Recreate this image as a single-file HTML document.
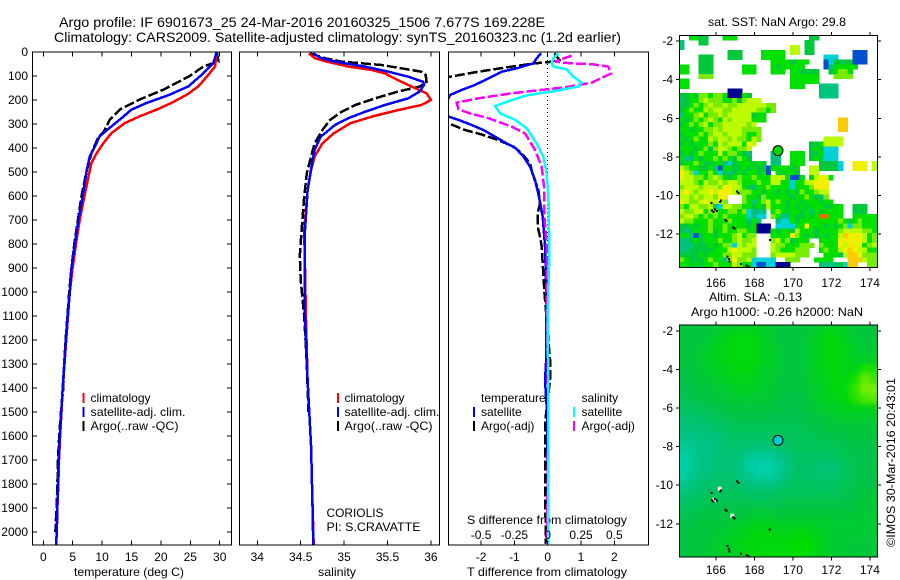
<!DOCTYPE html>
<html>
<head>
<meta charset="utf-8">
<title>Argo profile</title>
<style>
html,body{margin:0;padding:0;background:#fff;width:900px;height:580px;overflow:hidden}
svg{display:block}
text{font-family:"Liberation Sans",sans-serif;font-size:12px;fill:#000}
</style>
</head>
<body>
<svg id="chart" width="900" height="580" viewBox="0 0 900 580" xmlns="http://www.w3.org/2000/svg">
<defs>
<clipPath id="clip-temp"><rect x="32.5" y="52" width="199" height="493"/></clipPath>
<clipPath id="clip-sal"><rect x="239.5" y="52" width="200" height="493"/></clipPath>
<clipPath id="clip-diff"><rect x="448.5" y="52" width="200" height="493"/></clipPath>
<clipPath id="clip-sst"><rect x="679.5" y="35.5" width="198" height="232"/></clipPath>
<clipPath id="clip-sla"><rect x="679.5" y="325" width="198" height="232"/></clipPath>
<filter id="sla-smooth" x="-5%" y="-5%" width="110%" height="110%"><feGaussianBlur stdDeviation="2.5"/></filter>
</defs>
<text x="59" y="27" style="font-size:14px" textLength="486" lengthAdjust="spacingAndGlyphs">Argo profile: IF 6901673_25 24-Mar-2016 20160325_1506 7.677S 169.228E</text>
<text x="54" y="42" style="font-size:14px" textLength="567" lengthAdjust="spacingAndGlyphs">Climatology: CARS2009. Satellite-adjusted climatology: synTS_20160323.nc (1.2d earlier)</text>
<text x="74" y="576" textLength="110" lengthAdjust="spacingAndGlyphs">temperature (deg C)</text>
<text x="318" y="576" textLength="38" lengthAdjust="spacingAndGlyphs">salinity</text>
<text x="467" y="576" textLength="160" lengthAdjust="spacingAndGlyphs">T difference from climatology</text>
<text x="467" y="524" textLength="160" lengthAdjust="spacingAndGlyphs">S difference from climatology</text>
<text x="326.5" y="517" textLength="57" lengthAdjust="spacingAndGlyphs">CORIOLIS</text>
<text x="326.5" y="531" textLength="94" lengthAdjust="spacingAndGlyphs">PI: S.CRAVATTE</text>
<text x="708" y="26" textLength="138" lengthAdjust="spacingAndGlyphs">sat. SST: NaN Argo: 29.8</text>
<text x="709" y="301" textLength="93" lengthAdjust="spacingAndGlyphs">Altim. SLA: -0.13</text>
<text x="691" y="316" textLength="172" lengthAdjust="spacingAndGlyphs">Argo h1000: -0.26 h2000: NaN</text>
<text transform="translate(895 547) rotate(-90)" textLength="169" lengthAdjust="spacingAndGlyphs">©IMOS 30-Mar-2016 20:43:01</text>
<text x="90.5" y="402">climatology</text>
<text x="90.5" y="416" textLength="95" lengthAdjust="spacingAndGlyphs">satellite-adj. clim.</text>
<text x="90.5" y="430" textLength="88" lengthAdjust="spacingAndGlyphs">Argo(..raw -QC)</text>
<text x="344.5" y="402">climatology</text>
<text x="344.5" y="416" textLength="95" lengthAdjust="spacingAndGlyphs">satellite-adj. clim.</text>
<text x="344.5" y="430" textLength="88" lengthAdjust="spacingAndGlyphs">Argo(..raw -QC)</text>
<text x="481" y="402">temperature</text>
<text x="481" y="416">satellite</text>
<text x="481" y="430">Argo(-adj)</text>
<text x="581.5" y="402">salinity</text>
<text x="581.5" y="416">satellite</text>
<text x="581.5" y="430">Argo(-adj)</text>
</svg>
<script>
// ---- axis ticks ----
const depthTicks=[0,100,200,300,400,500,600,700,800,900,1000,1100,1200,1300,1400,1500,1600,1700,1800,1900,2000];
const tempTicks=[0,5,10,15,20,25,30];
const salTicks=[34,34.5,35,35.5,36];
const salTickLabels=["34","34.5","35","35.5","36"];
const tDiffTicks=[-2,-1,0,1,2];
const sDiffTicks=[-0.5,-0.25,0,0.25,0.5];
const sDiffTickLabels=["-0.5","-0.25","0","0.25","0.5"];
const lonTicks=[166,168,170,172,174];
const latTicks=[-2,-4,-6,-8,-10,-12];
// ---- temperature profiles ----
const tempClimZ=[0,61,100,143,178,212,240,268,296,338,380,421,462,504,600,697,794,898,1000,1100,1200,1300,1400,1500,1600,1700,1800,1900,2000,2060];
const tempClim=[29.5,29.2,27.9,26.4,24.4,21.8,19.3,16.4,13.9,11.6,10.2,9.1,8.2,7.8,7.0,6.2,5.6,5.0,4.5,4.2,3.9,3.6,3.3,3.1,2.85,2.67,2.55,2.4,2.3,2.15];
const tempSatZ=[0,46,67,100,143,178,212,240,276,310,351,393,435,490,600,697,794,898,1000,1100,1200,1300,1400,1500,1600,1700,1800,1900,2000,2060];
const tempSat=[29.5,28.9,28.1,26.7,24.7,21.5,17.6,15.0,13.3,11.6,9.6,8.8,7.9,7.4,6.7,6.0,5.4,4.8,4.5,4.15,3.85,3.55,3.3,3.05,2.8,2.62,2.5,2.38,2.28,2.2];
const tempArgoZ=[0,39,61,100,157,198,240,282,331,358,421,504,600,697,794,898,1000,1100,1200,1300,1400,1500,1600,1700,1800,1900,2000];
const tempArgo=[29.5,29.8,27.2,24.9,20.4,16.4,13.0,11.3,10.3,9.3,8.2,7.3,6.5,5.9,5.3,4.8,4.4,4.1,3.8,3.55,3.4,3.0,2.7,2.5,2.4,2.25,2.05];
// ---- salinity profiles ----
const salClimZ=[6,26,40,61,75,89,117,144,172,200,221,242,269,297,339,381,436,492,575,742,900,1100,1367,1644,1853,2054];
const salClim=[34.595,34.664,34.8,35.05,35.32,35.47,35.62,35.78,35.95,36.0,35.89,35.62,35.32,35.07,34.88,34.75,34.66,34.62,34.58,34.54,34.55,34.56,34.58,34.62,34.634,34.65];
const salSatZ=[6,26,40,61,82,103,124,137,165,193,221,249,276,304,353,408,464,575,742,900,1100,1367,1644,1853,2054];
const salSat=[34.645,34.74,34.895,35.24,35.51,35.74,35.91,35.92,35.87,35.74,35.47,35.24,35.05,34.895,34.73,34.66,34.63,34.58,34.55,34.545,34.55,34.58,34.62,34.634,34.645];
const salArgoZ=[6,26,40,54,68,82,96,124,144,165,193,221,249,283,325,381,436,506,603,742,850,950,1100,1300,1500];
const salArgo=[34.61,34.78,34.97,35.43,35.66,35.89,35.94,35.95,35.87,35.62,35.36,35.13,34.97,34.84,34.75,34.66,34.62,34.57,34.54,34.51,34.49,34.5,34.54,34.57,34.59];
// ---- difference profiles ----
const tDiffSatZ=[6,26,47,68,82,110,137,158,179,193,231,269,283,304,325,353,381,401,436,478,533,603,686,811,1000,1300,1367,1500,2050];
const tDiffSat=[-0.2,-0.33,-0.43,-0.93,-1.38,-1.78,-2.18,-2.58,-2.93,-2.98,-3.5,-2.98,-2.68,-2.28,-1.93,-1.58,-1.23,-0.96,-0.73,-0.53,-0.38,-0.26,-0.15,-0.08,-0.04,-0.05,-0.08,-0.02,0.02];
const tDiffArgoZ=[6,33,43,47,61,82,103,144,256,297,325,346,367,394,422,464,506,575,631,672,728,769,811,1000,1300,1367,1547,1825,2050];
const tDiffArgo=[0.2,0.35,0,-0.38,-1.08,-2.08,-2.93,-5,-5,-2.98,-2.48,-1.93,-1.48,-1.03,-0.78,-0.53,-0.46,-0.28,-0.23,-0.3,-0.3,-0.23,-0.18,-0.1,0.08,0.07,-0.08,-0.08,-0.05];
const sDiffSatZ=[6,26,47,61,72,103,128,144,165,179,200,225,256,283,318,381,436,506,603,742,825,1100,1500,2050];
const sDiffSat=[0.08,0.043,0.03,0.043,0.143,0.193,0.255,0.23,0.03,-0.145,-0.27,-0.395,-0.357,-0.245,-0.158,-0.083,-0.033,-0.008,0.005,0.01,0.0125,0.0,0.005,0.005];
const sDiffArgoZ=[15,40,47,51,61,89,128,147,158,172,193,211,239,256,276,311,339,408,478,575,686,811,1100,1500,2050];
const sDiffArgo=[0.18,0.055,0.168,0.33,0.455,0.475,0.33,0.13,-0.045,-0.27,-0.52,-0.683,-0.67,-0.583,-0.445,-0.27,-0.17,-0.095,-0.045,-0.025,-0.025,-0.0075,-0.005,0.005,-0.005];
// ---- SST map: level per 0.25 degree cell, 0 means no data ----
const sstRows=[
[0,0,6,6,5,5,0,0,0,6,6,6,0,0,0,0,0,0,0,0,0,0,0,0,0,0,0,5,5],
[4,0,0,0,5,5,0,0,0,0,0,0,0,0,0,0,0,0,0,0,0,0,0,0,0,0,5,5],
[4,0,0,0,0,0,0,0,0,0,0,0,0,0,0,0,0,0,0,0,0,0,0,8,8,0,5,5],
[0,0,0,0,0,0,0,0,0,0,5,5,5,0,0,0,0,6,6,6,6,6,0,8,8,0,5,5,0,0,0,0,0,0,0,0,2,2,2],
[0,0,0,0,5,5,5,0,0,0,5,5,5,0,0,0,0,6,6,6,6,6,0,0,0,0,0,0,0,0,3,3,3,0,0,0,2,2,2],
[0,0,0,0,5,5,5,0,0,0,0,0,0,0,0,0,0,0,0,6,6,6,6,5,6,6,6,0,0,0,2,3,5,5,5,5,2,2,2],
[6,6,0,0,5,5,5,0,0,0,0,0,0,6,6,6,0,0,0,6,5,6,6,6,6,6,0,0,0,0,2,4,6,6,6,6,6],
[6,6,0,0,5,5,5,0,0,0,0,0,0,6,6,6,0,0,0,6,6,6,0,6,6,5,5,5,5,0,0,5,6,7,7,6],
[0,0,0,0,7,7,7,0,0,0,0,0,0,0,0,0,0,0,0,0,0,0,0,6,6,6,6,6,6,0,0,0,7,7,7,7],
[6,6,0,0,0,0,0,0,0,0,0,0,0,0,0,0,0,0,0,0,0,0,0,6,6,6,6,6,6],
[6,6,0,0,0,0,0,0,0,0,0,0,0,0,0,0,0,0,0,0,0,0,0,6,6,6,0,0,0,4,4,4,4],
[0,0,0,0,0,0,0,0,0,0,1,1,1,0,0,0,0,0,0,0,0,0,0,0,0,0,0,0,0,4,4,4,4],
[5,5,6,5,7,7,6,7,7,6,1,1,1,6,5,0,0,0,0,0,0,0,0,0,0,0,0,0,0,4,4,4,4],
[4,5,6,6,7,8,7,7,7,6,6,7,5,7,8,8,8],
[5,5,6,7,6,7,8,7,7,8,7,7,8,8,8,8,8,8,7,7],
[5,6,7,6,6,8,7,8,8,7,7,8,8,8,8,8,7,7,6,7],
[4,6,6,7,8,6,7,7,8,7,8,8,8,8,8,5,6,6],
[6,5,6,7,6,7,8,7,6,8,7,8,8,8,8,6,6,6,0,0,0,0,0,0,0,0,0,0,0,0,0,0,0,10,10],
[5,6,7,6,7,8,6,7,7,8,8,8,8,8,7,8,0,0,0,0,0,0,0,0,0,0,0,0,0,0,0,0,0,10,10],
[6,6,5,6,6,7,7,8,7,8,8,8,8,7,7,7,7,0,0,0,0,0,0,0,0,0,0,0,0,0,0,0,0,10,10],
[5,6,6,6,7,6,7,8,8,7,8,8,8,7,6,6,7],
[6,5,6,7,6,6,8,7,8,8,7,8,7,7,6,8,7,0,0,0,0,0,0,0,0,0,0,0,0,0,8,8,8,8],
[5,6,5,6,6,6,7,6,8,7,8,8,8,6,9,8,0,0,0,0,0,0,0,0,0,0,0,5,5,6,8,8,8,8],
[6,6,6,5,6,7,5,7,8,8,7,6,7,7,8,0,0,0,0,0,0,0,0,0,0,0,0,5,6,5,3,3,3],
[5,6,5,6,7,6,6,6,8,6,7,7,6,5,4,0,0,0,0,4,5,0,0,6,6,6,0,5,5,6,3,3,3],
[6,4,4,6,5,6,6,7,6,7,6,5,7,6,5,0,0,0,0,4,4,0,0,6,6,6,0,5,6,5,3,3,3],
[5,6,6,7,6,5,5,6,6,4,3,5,6,6,6,5,6,5,0,4,4,0,0,6,6,6,0,0,0,5,5,5,5,3,0,0,9,9,9,0,8],
[8,7,6,6,5,5,6,4,2,6,6,5,5,6,5,6,5,5,2,6,6,6,6,5,6,0,0,8,8,5,5,5,5,3,0,0,9,9,9,0,8],
[9,8,7,3,6,6,7,6,3,5,4,5,6,5,6,6,5,6,2,0,6,5,6,6,5,0,0,8,8],
[9,8,8,7,7,6,7,8,7,6,5,6,7,6,6,7,6,6,6,8,8,8,6,2,2,6,0,6,8,9,9,6],
[8,8,8,7,6,8,7,7,8,7,8,8,7,6,6,6,7,6,6,8,8,6,6,3,6,6,8,8,9,9,9],
[7,8,8,8,7,8,8,8,7,9,9,8,8,6,5,4,6,6,7,6,6,6,6,3,6,6,6,7,9,9,9],
[8,9,8,7,8,8,9,8,9,9,9,8,7,7,7,6,6,5,6,6,5,6,5,6,5,7,6,6,7,8,8],
[8,8,7,8,7,8,8,7,9,9,0,0,0,7,6,6,5,7,6,6,6,6,6,5,6,6,7,6,5,4,7],
[9,8,7,7,8,9,8,8,8,7,0,0,0,7,6,4,6,7,8,6,7,6,5,6,6,5,6,6,6,5,6,6],
[7,6,8,8,7,7,8,4,3,8,8,7,7,6,6,5,6,5,8,6,6,6,5,6,5,6,5,6,6,6,5,5,6,6,0,0,5,5,5],
[8,7,7,8,8,6,7,7,6,6,7,7,6,7,3,4,4,4,0,6,7,6,5,6,6,5,6,4,6,5,6,6,6,6,0,0,5,5,5],
[7,8,8,7,6,7,6,7,6,7,6,6,6,6,3,4,3,3,0,7,6,4,4,6,5,5,6,5,6,11,11,6,6,6,0,0,6,6,6,6,6],
[8,7,7,6,6,6,7,6,6,6,7,6,6,6,4,6,4,0,0,0,4,3,3,6,5,6,6,6,6,6,6,6,6,7,6,5,6,7,6,6,6],
[5,5,6,5,6,6,7,6,6,7,6,6,6,6,5,6,1,1,1,0,3,3,3,3,6,6,9,6,6,6,5,6,5,6,7,3,7,7,6,6,6],
[5,4,5,6,6,6,7,5,6,7,6,6,7,7,6,6,1,1,1,6,5,6,6,5,8,6,6,6,5,6,6,6,6,7,8,8,8,8,7,7,6],
[6,6,4,2,5,6,6,5,6,6,6,7,8,6,7,7,0,0,0,6,6,6,6,9,7,6,5,6,5,6,5,6,6,8,10,9,9,9,8,6,7],
[4,4,5,6,5,6,6,6,7,6,6,7,8,7,7,8,0,0,0,7,8,6,7,5,6,6,6,0,0,6,6,6,6,9,9,9,9,9,8,6,7],
[4,4,4,5,5,5,6,5,6,7,7,3,8,7,8,8,0,0,0,8,7,7,6,6,6,7,7,7,0,7,6,6,6,9,8,9,9,9,6,7,8],
[4,4,5,5,5,5,5,6,6,6,8,9,8,8,8,7,0,0,0,8,7,6,6,6,7,7,7,0,0,6,7,6,6,8,9,10,9,8,8,6,6],
[5,5,5,5,6,5,6,6,6,7,7,8,8,7,7,7,0,0,0,7,8,8,8,8,7,7,7,0,0,0,6,6,6,5,8,10,10,9,7,7,7],
[7,6,5,5,5,6,7,6,6,4,7,9,7,7,8,3,3,3,3,3,0,0,7,7,7,0,0,0,6,6,6,6,0,0,0,10,10,10,8,7,7],
[6,6,5,6,5,6,6,7,6,6,6,8,7,6,6,3,2,2,3,3,1,1,1,0,0,0,0,0,0,4,4,4,4,5,3,10,10,0,0,7,7]
];
// ---- SLA map: anomaly in cm per 0.5 degree cell ----
const slaRows=[
[-15,-15,-14,-14,-12,-10,-9,-9,-10,-12,-14,-15,-15,-14,-12,-9,-9,-11,-14,-15,-15],
[-15,-15,-14,-12,-10,-8,-7,-7,-9,-12,-14,-15,-15,-13,-10,-8,-8,-10,-13,-14,-14],
[-15,-15,-13,-11,-9,-8,-7,-7,-9,-11,-13,-15,-15,-13,-10,-8,-8,-9,-12,-13,-13],
[-15,-14,-13,-11,-9,-8,-7,-7,-9,-11,-13,-15,-15,-13,-10,-8,-8,-9,-11,-11,-11],
[-16,-15,-13,-12,-10,-9,-8,-8,-10,-12,-13,-15,-15,-13,-10,-9,-8,-9,-9,-4,-4],
[-17,-15,-14,-13,-11,-10,-9,-9,-11,-12,-14,-15,-15,-13,-11,-9,-8,-8,-4,2,-1],
[-17,-16,-15,-14,-13,-12,-11,-11,-12,-13,-14,-15,-15,-14,-12,-10,-8,-7,-2,6,6],
[-18,-17,-16,-15,-14,-13,-13,-13,-13,-14,-15,-16,-16,-14,-12,-10,-9,-8,-3,0,1],
[-20,-19,-18,-17,-16,-15,-15,-14,-15,-15,-16,-17,-16,-15,-13,-12,-11,-10,-9,-9,-9],
[-22,-21,-20,-19,-18,-17,-16,-16,-16,-17,-17,-17,-17,-16,-15,-14,-13,-12,-12,-12,-12],
[-23,-22,-22,-21,-20,-19,-18,-18,-18,-18,-18,-18,-18,-17,-16,-15,-15,-14,-14,-14,-14],
[-24,-24,-23,-23,-22,-20,-20,-20,-20,-20,-19,-19,-18,-18,-17,-17,-16,-16,-15,-15,-15],
[-26,-25,-24,-24,-22,-21,-21,-22,-22,-22,-21,-20,-19,-19,-18,-18,-18,-17,-16,-16,-16],
[-28,-26,-24,-23,-22,-22,-23,-25,-26,-26,-24,-22,-20,-20,-20,-20,-19,-18,-17,-17,-16],
[-29,-26,-24,-23,-22,-22,-24,-27,-29,-29,-26,-23,-20,-20,-21,-22,-21,-19,-17,-17,-16],
[-28,-25,-23,-22,-21,-21,-23,-25,-27,-27,-25,-22,-20,-20,-21,-22,-21,-19,-17,-16,-16],
[-25,-23,-21,-20,-20,-20,-21,-22,-23,-23,-22,-20,-19,-19,-20,-20,-19,-18,-17,-16,-16],
[-22,-21,-20,-19,-19,-19,-19,-20,-20,-20,-19,-18,-18,-18,-18,-18,-18,-17,-16,-15,-15],
[-20,-19,-18,-17,-17,-17,-17,-17,-17,-17,-17,-16,-16,-16,-16,-16,-16,-16,-15,-14,-14],
[-18,-17,-16,-16,-15,-15,-15,-14,-13,-13,-14,-14,-14,-14,-14,-14,-14,-14,-14,-13,-13],
[-16,-16,-15,-14,-14,-13,-12,-11,-10,-10,-11,-11,-11,-11,-12,-12,-13,-13,-13,-13,-13],
[-16,-15,-15,-14,-13,-12,-10,-9,-8,-8,-9,-9,-8,-8,-10,-12,-13,-13,-13,-13,-13],
[-16,-15,-14,-13,-12,-11,-9,-8,-7,-7,-7,-7,-6,-6,-9,-11,-13,-13,-14,-14,-14],
[-16,-15,-14,-13,-12,-11,-9,-8,-7,-7,-7,-7,-6,-6,-9,-11,-13,-13,-14,-14,-14]
];
// ---- profile location and coastline points ----
const floatLon=[169.228];
const floatLat=[-7.677];
const islandLon=[165.78,165.8,165.87,165.95,166.05,166.26,166.22,167.1,167.18,166.5,166.55,166.9,166.97,166.6,166.67,166.7,167.3,167.6,167.7,168.8];
const islandLat=[-10.4,-10.78,-10.85,-10.72,-10.8,-10.27,-10.33,-9.8,-9.88,-11.27,-11.32,-11.66,-11.72,-13.15,-13.3,-13.43,-13.55,-13.62,-13.68,-12.3];
const coastLon=[165.9,166.2,166.85];
const coastLat=[-10.78,-10.18,-11.58];

// ---- scales ----
const yDepth=d=>52+d*0.24;
const xTemp=t=>43.3+t*5.88;
const xSal=s=>257.3+(s-34)*86.8;
const xTDiff=t=>547.7+t*33.3;
const xSDiff=s=>547.7+s*133.2;
const lonSst=l=>679.3+(l-164.1)*19.25;
const latSst=l=>35.3+(-1.7-l)*19.3;
const latSla=l=>325+(-1.7-l)*19.3;

const svg=document.getElementById('chart');
const NS='http://www.w3.org/2000/svg';
function mk(tag,attrs,parent){
  const el=document.createElementNS(NS,tag);
  for(const k in attrs)el.setAttribute(k,attrs[k]);
  (parent||svg).appendChild(el);
  return el;
}
function label(str,x,y,anchor,name){
  const el=mk('text',{x:x,y:y,'text-anchor':anchor});
  el.textContent=str;
  
  
}
function tick(x1,y1,x2,y2,name){
  const el=mk('line',{x1:x1,y1:y1,x2:x2,y2:y2,stroke:'#000','stroke-width':1,'shape-rendering':'crispEdges'});
  
  
}
function box(x,y,w,h,name){
  const el=mk('rect',{x:x,y:y,width:w,height:h,fill:'none',stroke:'#000','stroke-width':1,'shape-rendering':'crispEdges'});
  
  
}
function profile(zs,vals,xs,clip,color,dash,name){
  const pts=zs.map((z,i)=>xs(vals[i]).toFixed(1)+','+yDepth(z).toFixed(1)).join(' ');
  const attrs={points:pts,fill:'none',stroke:color,'stroke-width':2.5,'shape-rendering':'crispEdges','clip-path':'url(#'+clip+')'};
  if(dash)attrs['stroke-dasharray']=dash;
  const el=mk('polyline',attrs);
  
  
}
function legendMark(x,y,color,name){
  const el=mk('line',{x1:x,y1:y-5,x2:x,y2:y+5,stroke:color,'stroke-width':2,'shape-rendering':'crispEdges'});
  
  
}

// ---- profile panels ----
const ARGO_DASH='10 3';
profile(tempArgoZ,tempArgo,xTemp,'clip-temp','#000',ARGO_DASH,'temperature-argo-line');
profile(tempClimZ,tempClim,xTemp,'clip-temp','#f00',null,'temperature-climatology-line');
profile(tempSatZ,tempSat,xTemp,'clip-temp','#00f',null,'temperature-satellite-line');
profile(salArgoZ,salArgo,xSal,'clip-sal','#000',ARGO_DASH,'salinity-argo-line');
profile(salClimZ,salClim,xSal,'clip-sal','#f00',null,'salinity-climatology-line');
profile(salSatZ,salSat,xSal,'clip-sal','#00f',null,'salinity-satellite-line');
const zeroLine=mk('line',{x1:xTDiff(0),y1:52,x2:xTDiff(0),y2:545,stroke:'#000','stroke-width':1,'stroke-dasharray':'1 3','shape-rendering':'crispEdges'});


profile(tDiffArgoZ,tDiffArgo,xTDiff,'clip-diff','#000',ARGO_DASH,'t-difference-argo-line');
profile(tDiffSatZ,tDiffSat,xTDiff,'clip-diff','#00f',null,'t-difference-satellite-line');
profile(sDiffArgoZ,sDiffArgo,xSDiff,'clip-diff','#f0f','10 3','s-difference-argo-line');
profile(sDiffSatZ,sDiffSat,xSDiff,'clip-diff','#0ff',null,'s-difference-satellite-line');

box(32.5,52,199,493,'temperature-plot-frame');
box(239.5,52,200,493,'salinity-plot-frame');
box(448.5,52,200,493,'difference-plot-frame');

depthTicks.forEach(d=>{
  tick(32.5,yDepth(d),37,yDepth(d),'depth-tick-left');
  tick(227,yDepth(d),231.5,yDepth(d),'depth-tick-right');
  label(String(d),28,yDepth(d)+4,'end','depth-tick-label');
});
tempTicks.forEach(t=>{
  tick(xTemp(t),52,xTemp(t),56.5,'temperature-tick-top');
  tick(xTemp(t),540.5,xTemp(t),545,'temperature-tick-bottom');
  label(String(t),xTemp(t),561,'middle','temperature-tick-label');
});
salTicks.forEach((s,i)=>{
  tick(xSal(s),52,xSal(s),56.5,'salinity-tick-top');
  tick(xSal(s),540.5,xSal(s),545,'salinity-tick-bottom');
  label(salTickLabels[i],xSal(s),561,'middle','salinity-tick-label');
});
tDiffTicks.forEach(t=>{
  tick(xTDiff(t),52,xTDiff(t),56.5,'t-difference-tick-top');
  tick(xTDiff(t),540.5,xTDiff(t),545,'t-difference-tick-bottom');
  label(String(t),xTDiff(t),561,'middle','t-difference-tick-label');
});
sDiffTicks.forEach((s,i)=>{
  label(sDiffTickLabels[i],xSDiff(s),539,'middle','s-difference-tick-label');
});

legendMark(83.5,398,'#f00','temp-legend-climatology-mark');
legendMark(83.5,412,'#00f','temp-legend-satellite-mark');
legendMark(83.5,426,'#000','temp-legend-argo-mark');
legendMark(338,398,'#f00','sal-legend-climatology-mark');
legendMark(338,412,'#00f','sal-legend-satellite-mark');
legendMark(338,426,'#000','sal-legend-argo-mark');
legendMark(474,412,'#00f','diff-legend-t-satellite-mark');
legendMark(474,426,'#000','diff-legend-t-argo-mark');
legendMark(574,412,'#0ff','diff-legend-s-satellite-mark');
legendMark(574,426,'#f0f','diff-legend-s-argo-mark');

// ---- SST map ----
const sstPalette=['#fff','#000090','#0050d0','#00d0d8','#00c47c','#00c83c','#00e000','#78ec00','#bcfa00','#f0f000','#ffc800','#f07000'];
const sstGroup=mk('g',{'clip-path':'url(#clip-sst)','shape-rendering':'crispEdges'});


sstRows.forEach((row,r)=>{
  row.forEach((v,c)=>{
    if(!v)return;
    const lon=164.1+c*0.25, lat=-1.7-r*0.25;
    const cell=mk('rect',{x:lonSst(lon),y:latSst(lat),width:lonSst(lon+0.25)-lonSst(lon)+0.4,height:latSst(lat-0.25)-latSst(lat)+0.4,fill:sstPalette[v]},sstGroup);
    
    
  });
});

// ---- SLA map ----
const slaStops=[-30,-27,-24,-20,-15,-10,-6,0,4];
const slaReds=[0,0,0,0,0,0,0,70,120];
const slaGreens=[210,205,196,194,198,208,222,232,238];
const slaBlues=[180,160,134,100,62,30,0,0,0];
function slaColor(v){
  let i=0;
  while(i<slaStops.length-2&&v>slaStops[i+1])i++;
  const f=Math.max(0,Math.min(1,(v-slaStops[i])/(slaStops[i+1]-slaStops[i])));
  const m=a=>Math.round(a[i]+(a[i+1]-a[i])*f);
  return 'rgb('+m(slaReds)+','+m(slaGreens)+','+m(slaBlues)+')';
}
const slaClip=mk('g',{'clip-path':'url(#clip-sla)'});


const slaBack=mk('rect',{x:679.5,y:325,width:198,height:232,fill:'#00c848'},slaClip);


const slaGroup=mk('g',{filter:'url(#sla-smooth)'},slaClip);


slaRows.forEach((row,r)=>{
  row.forEach((v,c)=>{
    const lon=164+c*0.5, lat=-1.75-r*0.5;
    const cell=mk('rect',{x:lonSst(lon),y:latSla(lat),width:lonSst(lon+0.5)-lonSst(lon)+0.5,height:latSla(lat-0.5)-latSla(lat)+0.5,fill:slaColor(v)},slaGroup);
    
    
  });
});

// ---- islands on both maps ----
coastLon.forEach((lon,i)=>{
  const p=mk('rect',{x:lonSst(lon)-2,y:latSla(coastLat[i])-2,width:4,height:4,fill:'#fff'},slaClip);
  
  
});
islandLon.forEach((lon,i)=>{
  const a=mk('rect',{x:lonSst(lon)-1,y:latSst(islandLat[i])-1,width:2,height:2,fill:'#000'},sstGroup);
  
  
  const b=mk('rect',{x:lonSst(lon)-1,y:latSla(islandLat[i])-1,width:2,height:2,fill:'#000'},slaClip);
  
  
});

// ---- map frames, ticks, float markers ----
box(679.5,35.5,198,232,'sst-map-frame');
box(679.5,325,198,232,'sla-map-frame');
lonTicks.forEach(l=>{
  const x=lonSst(l);
  tick(x,32,x,35.5,'sst-longitude-tick-top');
  tick(x,267.5,x,271,'sst-longitude-tick-bottom');
  label(String(l),x,287,'middle','sst-longitude-label');
  tick(x,321.5,x,325,'sla-longitude-tick-top');
  tick(x,557,x,560.5,'sla-longitude-tick-bottom');
  label(String(l),x,574,'middle','sla-longitude-label');
});
latTicks.forEach(l=>{
  tick(676,latSst(l),679.5,latSst(l),'sst-latitude-tick-left');
  tick(877.5,latSst(l),881,latSst(l),'sst-latitude-tick-right');
  label(String(l),673,latSst(l)+4,'end','sst-latitude-label');
  tick(676,latSla(l),679.5,latSla(l),'sla-latitude-tick-left');
  tick(877.5,latSla(l),881,latSla(l),'sla-latitude-tick-right');
  label(String(l),673,latSla(l)+4,'end','sla-latitude-label');
});
floatLon.forEach((lon,i)=>{
  const s=mk('circle',{cx:lonSst(lon),cy:latSst(floatLat[i]),r:5,fill:'#00d800',stroke:'#000','stroke-width':1});
  
  
  const h=mk('circle',{cx:lonSst(lon),cy:latSla(floatLat[i]),r:5,fill:'#00c8d8',stroke:'#000','stroke-width':1});
  
  
});
</script>
</body>
</html>
